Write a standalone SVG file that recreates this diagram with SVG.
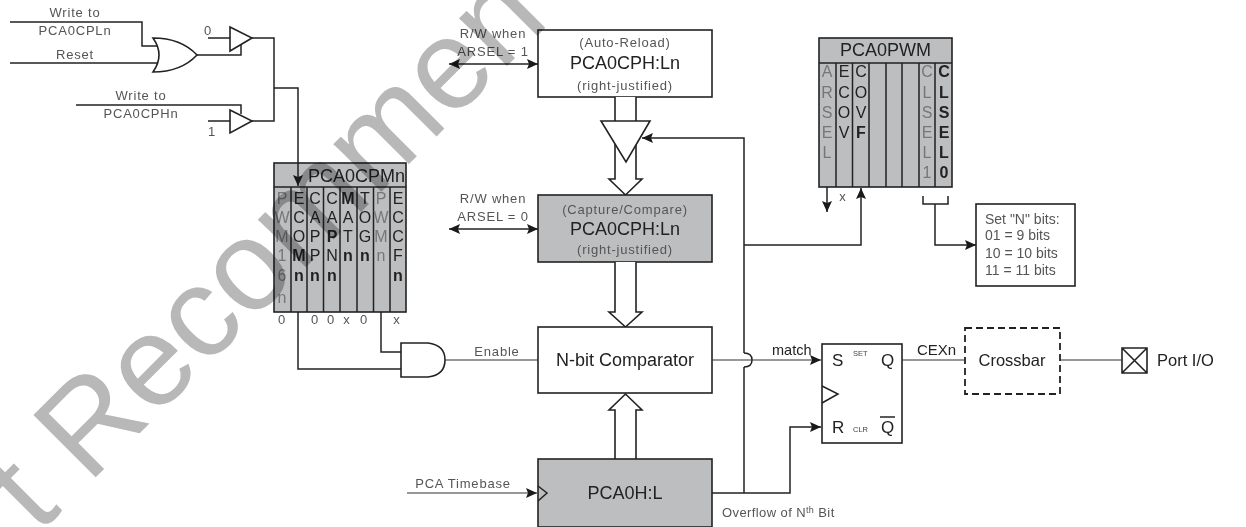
<svg xmlns="http://www.w3.org/2000/svg" width="1246" height="527" viewBox="0 0 1246 527">
<defs>
<marker id="ah" markerWidth="14" markerHeight="12" refX="11" refY="5" orient="auto-start-reverse" markerUnits="userSpaceOnUse"><path d="M0 0L11 5L0 10L2 5Z" fill="#1a1a1a"/></marker>
</defs>
<style>
text{font-family:"Liberation Sans",Arial,sans-serif;fill:#222}
.l{fill:none;stroke:#222;stroke-width:1.5}
.t{fill:none;stroke:#333;stroke-width:1.2}
.b{fill:#fff;stroke:#222;stroke-width:1.6}
.g{fill:#bcbec0;stroke:#222;stroke-width:1.6}
.s{font-size:13px;letter-spacing:.8px;fill:#555}
.c{text-anchor:middle}
.m{font-size:18px;fill:#222;text-anchor:middle}
.r{font-size:16px;text-anchor:middle;fill:#222}
.rd{font-size:16px;text-anchor:middle;fill:#777}
.rb{font-size:16px;text-anchor:middle;fill:#222;font-weight:bold}
.wm{font-size:128px;fill:#b8b8b8;mix-blend-mode:multiply}
</style>
<g id="or-gate"><path class="b" d="M153 38Q181 38 197 55Q181 72 153 72Q165 55 153 38Z"/></g>
<g id="buffer-0"><path class="b" d="M230 27L252 38L230 51Z"/><text class="s c" x="208" y="35">0</text></g>
<g id="buffer-1"><path class="b" d="M230 110L252 121L230 133Z"/><text class="s c" x="212" y="136">1</text></g>
<g id="labels-left">
<text class="s c" x="75" y="17">Write to</text><text class="s c" x="75" y="35">PCA0CPLn</text><text class="s c" x="75" y="59">Reset</text>
<text class="s c" x="141" y="100">Write to</text><text class="s c" x="141" y="118">PCA0CPHn</text>
</g>
<g id="pca0cpmn">
<rect class="g" x="274" y="163" width="132" height="149"/>
<path class="l" d="M274 187H406M291 187V312M307 187V312M323.500 187V312M340 187V312M357 187V312M373.500 187V312M390 187V312"/>
<text x="405" y="182" text-anchor="end" font-size="18">PCA0CPMn</text>
<text class="rd" x="282" y="204">P</text><text class="rd" x="282" y="223">W</text><text class="rd" x="282" y="242">M</text><text class="rd" x="282" y="261">1</text><text class="rd" x="282" y="281">6</text><text class="rd" x="282" y="303">n</text>
<text class="r" x="299" y="204">E</text><text class="r" x="299" y="223">C</text><text class="r" x="299" y="242">O</text><text class="rb" x="299" y="261">M</text><text class="rb" x="299" y="281">n</text>
<text class="r" x="315" y="204">C</text><text class="r" x="315" y="223">A</text><text class="r" x="315" y="242">P</text><text class="r" x="315" y="261">P</text><text class="rb" x="315" y="281">n</text>
<text class="r" x="332" y="204">C</text><text class="r" x="332" y="223">A</text><text class="rb" x="332" y="242">P</text><text class="r" x="332" y="261">N</text><text class="rb" x="332" y="281">n</text>
<text class="rb" x="348" y="204">M</text><text class="r" x="348" y="223">A</text><text class="r" x="348" y="242">T</text><text class="rb" x="348" y="261">n</text>
<text class="r" x="365" y="204">T</text><text class="r" x="365" y="223">O</text><text class="r" x="365" y="242">G</text><text class="rb" x="365" y="261">n</text>
<text class="rd" x="381" y="204">P</text><text class="rd" x="381" y="223">W</text><text class="rd" x="381" y="242">M</text><text class="rd" x="381" y="261">n</text>
<text class="r" x="398" y="204">E</text><text class="r" x="398" y="223">C</text><text class="r" x="398" y="242">C</text><text class="r" x="398" y="261">F</text><text class="rb" x="398" y="281">n</text>
<text class="s c" x="282" y="324">0</text><text class="s c" x="315" y="324">0</text><text class="s c" x="331" y="324">0</text><text class="s c" x="347" y="324">x</text><text class="s c" x="364" y="324">0</text><text class="s c" x="397" y="324">x</text>
</g>
<g id="and-gate"><path class="b" d="M401 343H428Q445 345 445 360Q445 375 428 377H401Z"/></g>
<g id="pca0cph-reload">
<rect class="b" x="538" y="30" width="174" height="67"/>
<text class="s c" x="625" y="47">(Auto-Reload)</text><text class="m" x="625" y="69">PCA0CPH:Ln</text><text class="s c" x="625" y="90">(right-justified)</text>
<text class="s c" x="493" y="38">R/W when</text><text class="s c" x="493" y="56">ARSEL = 1</text>
</g>
<path id="wide-arrow-1" class="b" d="M615 97V179H609L625.500 195L642 179H636V97"/>
<path id="gate-triangle" class="b" d="M601 121H650L626 162Z"/>
<g id="pca0cph-capture">
<rect class="g" x="538" y="195" width="174" height="67"/>
<text class="s c" x="625" y="214">(Capture/Compare)</text><text class="m" x="625" y="235">PCA0CPH:Ln</text><text class="s c" x="625" y="254">(right-justified)</text>
<text class="s c" x="493" y="203">R/W when</text><text class="s c" x="493" y="221">ARSEL = 0</text>
</g>
<path id="wide-arrow-2" class="b" d="M615 262V312H609L625.500 327L642 312H636V262"/>
<g id="comparator"><rect class="b" x="538" y="327" width="174" height="66"/><text class="m" x="625" y="366">N-bit Comparator</text></g>
<path id="wide-arrow-3" class="b" d="M615 459V410H609L625.500 394L642 410H636V459"/>
<g id="pca0hl"><rect class="g" x="538" y="459" width="174" height="68"/><path class="l" d="M538 486L547 493L538 501"/><text class="m" x="625" y="499">PCA0H:L</text></g>
<text id="enable-label" class="s c" x="497" y="356">Enable</text>
<text id="timebase-label" class="s c" x="463" y="488">PCA Timebase</text>
<text id="overflow-label" x="722" y="517" font-size="13" letter-spacing=".4" style="fill:#555">Overflow of N<tspan dy="-4" font-size="9">th</tspan><tspan dy="4"> Bit</tspan></text>
<text id="match-label" x="772" y="355" font-size="14.500">match</text>
<g id="flipflop">
<rect class="b" x="822" y="344" width="80" height="99"/>
<path class="l" d="M822 386L838 394L822 403"/>
<text x="832" y="366" font-size="17">S</text><text x="853" y="356" font-size="7.500" style="fill:#444">SET</text><text x="881" y="366" font-size="17">Q</text>
<text x="832" y="433" font-size="17">R</text><text x="853" y="432" font-size="7.500" style="fill:#444">CLR</text><text x="881" y="433" font-size="17">Q</text><path class="l" d="M880 417H895"/>
</g>
<text id="cexn-label" x="917" y="355" font-size="15">CEXn</text>
<g id="crossbar"><rect x="965" y="328" width="95" height="66" fill="#fff" stroke="#222" stroke-width="1.800" stroke-dasharray="7 4"/><text class="m" style="font-size:16.500px" x="1012" y="366">Crossbar</text></g>
<g id="port-io"><path class="b" d="M1122 348H1147V373H1122ZM1122 348L1147 373M1147 348L1122 373"/><text x="1157" y="366" font-size="16.500">Port I/O</text></g>
<g id="pca0pwm">
<rect class="g" x="819" y="38" width="133" height="149"/>
<path class="l" d="M819 63H952M836 63V187M852.500 63V187M869 63V187M886 63V187M902 63V187M919 63V187M935 63V187"/>
<text x="885.500" y="56" text-anchor="middle" font-size="18">PCA0PWM</text>
<text class="rd" x="827" y="77">A</text><text class="rd" x="827" y="98">R</text><text class="rd" x="827" y="118">S</text><text class="rd" x="827" y="138">E</text><text class="rd" x="827" y="158">L</text>
<text class="r" x="844" y="77">E</text><text class="r" x="844" y="98">C</text><text class="r" x="844" y="118">O</text><text class="r" x="844" y="138">V</text>
<text class="r" x="861" y="77">C</text><text class="r" x="861" y="98">O</text><text class="r" x="861" y="118">V</text><text class="rb" x="861" y="138">F</text>
<text class="rd" x="927" y="77">C</text><text class="rd" x="927" y="98">L</text><text class="rd" x="927" y="118">S</text><text class="rd" x="927" y="138">E</text><text class="rd" x="927" y="158">L</text><text class="rd" x="927" y="178">1</text>
<text class="rb" x="944" y="77">C</text><text class="rb" x="944" y="98">L</text><text class="rb" x="944" y="118">S</text><text class="rb" x="944" y="138">E</text><text class="rb" x="944" y="158">L</text><text class="rb" x="944" y="178">0</text>
<text class="s c" x="843" y="201">x</text>
</g>
<g id="n-bits">
<rect class="b" x="976" y="204" width="99" height="82"/>
<text x="985" y="224" font-size="14" style="fill:#555">Set "N" bits:</text><text x="985" y="240" font-size="14" style="fill:#555">01 = 9 bits</text><text x="985" y="258" font-size="14" style="fill:#555">10 = 10 bits</text><text x="985" y="275" font-size="14" style="fill:#555">11 = 11 bits</text>
</g>
<g id="connectors">
<path class="l" d="M10 22H142V46H158M10 63H158"/>
<path class="l" d="M197 55H241V45M208 38H230M252 38H274V121H252M274 88H298V174"/>
<path class="l" d="M76 105H241V114M208 121H230"/>
<path class="l" d="M298 312V369H401M381 312V352H401"/>
<path class="t" d="M445 360H538"/>
<path class="l" d="M298 174V186" marker-end="url(#ah)"/>
<path class="l" d="M449 64H538" marker-start="url(#ah)" marker-end="url(#ah)"/>
<path class="l" d="M449 229H538" marker-start="url(#ah)" marker-end="url(#ah)"/>
<path class="l" d="M744 353V138H642" marker-end="url(#ah)"/>
<path class="l" d="M744 245H861V188" marker-end="url(#ah)"/>
<path class="l" d="M712 493H790V427H821" marker-end="url(#ah)"/>
<path class="l" d="M744 493V367"/>
<path class="l" d="M744 353Q752 353 752 360Q752 367 744 367"/>
<path class="t" d="M712 360H821" marker-end="url(#ah)"/>
<path class="t" d="M407 493H537" marker-end="url(#ah)"/>
<path class="t" d="M902 360H965M1060 360H1122"/>
<path class="l" d="M827 187V212" marker-end="url(#ah)"/>
<path class="l" d="M923 196V204H948V196M935 204V245H976" marker-end="url(#ah)"/>
</g>
<text class="wm" transform="translate(38 535) rotate(-45)">t Recommen</text>
</svg>
